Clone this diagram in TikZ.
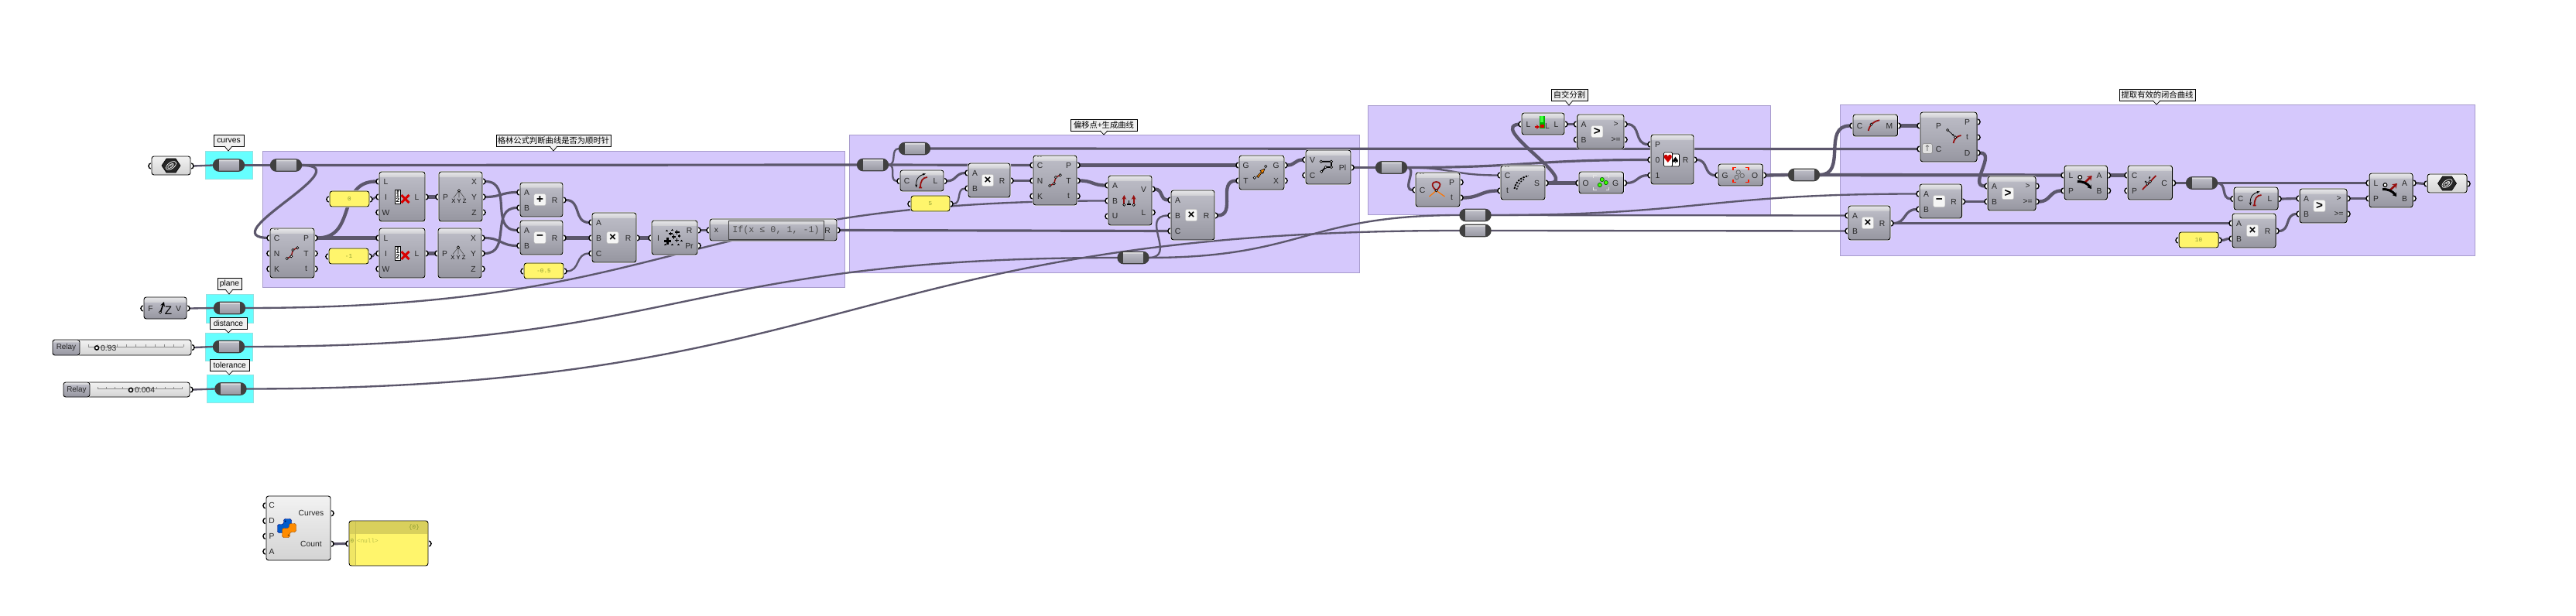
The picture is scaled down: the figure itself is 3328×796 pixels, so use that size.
\documentclass[tikz,border=0pt]{standalone}
\usepackage{fontspec}
\setmainfont{Liberation Sans}
\newfontfamily\cjkfont{Noto Sans CJK SC}
\newfontfamily\panelfont{Liberation Mono}
\newfontfamily\symfont{DejaVu Sans}
\usetikzlibrary{arrows.meta}
\pgfdeclarelayer{groups}
\pgfdeclarelayer{wires}
\pgfsetlayers{groups,wires,main}
\definecolor{gpurple}{RGB}{213, 200, 252}
\definecolor{gpedge}{RGB}{168, 156, 205}
\definecolor{gcyan}{RGB}{102, 255, 255}
\definecolor{gcedge}{RGB}{150, 225, 225}
\definecolor{wirec}{RGB}{92, 87, 108}
\definecolor{pyellow}{RGB}{255, 245, 108}
\definecolor{ptext}{RGB}{140, 155, 50}
\definecolor{darkred}{RGB}{150, 15, 15}
\definecolor{ghlo}{RGB}{150, 150, 160}
\definecolor{ghmi}{RGB}{172, 172, 182}
\definecolor{ghhi}{RGB}{186, 186, 196}
\definecolor{ghst}{RGB}{208, 208, 212}
\definecolor{ghto}{RGB}{232, 232, 234}
\pgfdeclareverticalshading{gha}{100bp}{color(0bp)=(ghlo); color(25bp)=(ghlo); color(50bp)=(ghmi); color(69.5bp)=(ghhi); color(70bp)=(ghst); color(75bp)=(ghto); color(100bp)=(ghto)}
\pgfdeclareverticalshading{ghb}{100bp}{color(0bp)=(ghlo); color(25bp)=(ghlo); color(50bp)=(ghmi); color(67.5bp)=(ghhi); color(68bp)=(ghst); color(75bp)=(ghto); color(100bp)=(ghto)}
\pgfdeclareverticalshading{ghc}{100bp}{color(0bp)=(ghlo); color(25bp)=(ghlo); color(50bp)=(ghmi); color(63.5bp)=(ghhi); color(64bp)=(ghst); color(75bp)=(ghto); color(100bp)=(ghto)}
\pgfdeclareverticalshading{ghl}{100bp}{color(0bp)=(black!17); color(25bp)=(black!17); color(75bp)=(black!5); color(100bp)=(black!5)}
\tikzset{
  ghbox/.style={draw=black, line width=0.8pt, rounded corners=2.5pt, inner sep=0pt, outer sep=0pt,
                preaction={draw=white, line width=1.8pt}},
  ghmetal/.style={shade, shading=\ghsh},
  ghlight/.style={shade, shading=ghl},
  panelbox/.style={fill=pyellow},
  ghport/.style={circle, draw=black, fill=white, line width=1.2pt, minimum size=7.2*0.8535pt, inner sep=0pt, outer sep=0pt},
  ghpin/.style={font=\fontsize{8.8}{10}\selectfont, text=black!85, inner sep=0pt},
  paneltext/.style={font=\panelfont\fontsize{6.5}{7}\selectfont, text=ptext, inner sep=0pt},
  btn/.style={draw=black!25, fill=black!4, rounded corners=2pt, minimum size=13pt, inner sep=0pt,
              font=\fontsize{13}{13}\selectfont\bfseries},
  relaybox/.style={draw=black!75, line width=1.1pt, rounded corners=6.5pt, minimum width=40*0.8535pt,
                   minimum height=15.5*0.8535pt, inner sep=0pt, outer sep=0pt, shade, shading=ghb,
                   path picture={\fill[black!75, sharp corners] (path picture bounding box.north west) rectangle ++(7,15.5);
                                 \fill[black!75, sharp corners] (path picture bounding box.north east) rectangle ++(-7,15.5);}},
  tipbox/.style={draw=black, fill=black!6, line width=0.8pt, inner sep=0pt, font=\fontsize{8.8}{10}\selectfont},
  grp/.style={fill=gpurple, draw=gpedge, line width=0.8pt},
  cyn/.style={fill=gcyan, draw=gcedge, line width=0.8pt},
  wire/.style={draw=wirec, line width=2pt, out=0, in=180, looseness=1.25},
  wirem/.style={wire, line width=2.7pt},
  wirek/.style={wire, line width=3.7pt}
}
\newcommand*{\inlab}{8.5}
\newcommand*{\outlab}{10.5}
\newcommand{\ghcomp}[8][ghmetal]{%
  \pgfmathtruncatemacro{\ghh}{#6-#4}%
  \ifnum\ghh<34 \def\ghsh{ghc}\else\ifnum\ghh<50 \def\ghsh{ghb}\else\def\ghsh{gha}\fi\fi
  \foreach \ghlab [count=\ghi] in {#7} {\xdef\ghn{\ghi}}%
  \foreach \ghlab [count=\ghi] in {#7} {
    \pgfmathsetmacro{\ghy}{#4+2.5+(#6-#4-4)*(\ghi-0.5)/\ghn}
    \node[ghport] (#2-i\ghi) at (#3-0.5,\ghy) {};
  }
  \foreach \ghlab [count=\ghi] in {#8} {\xdef\ghn{\ghi}}%
  \foreach \ghlab [count=\ghi] in {#8} {
    \pgfmathsetmacro{\ghy}{#4+2.5+(#6-#4-4)*(\ghi-0.5)/\ghn}
    \node[ghport] (#2-o\ghi) at (#5+0.5,\ghy) {};
  }
  \node[ghbox, #1, minimum width={(#5-#3)*0.03cm}, minimum height={(#6-#4)*0.03cm}] (#2) at ({(#3+#5)/2},{(#4+#6)/2}) {};
  \foreach \ghlab [count=\ghi] in {#7} {\xdef\ghn{\ghi}}%
  \foreach \ghlab [count=\ghi] in {#7} {
    \pgfmathsetmacro{\ghy}{#4+2.5+(#6-#4-4)*(\ghi-0.5)/\ghn}
    \node[ghpin] (#2-il\ghi) at (#3+\inlab,\ghy) {\ghlab};
  }
  \foreach \ghlab [count=\ghi] in {#8} {\xdef\ghn{\ghi}}%
  \foreach \ghlab [count=\ghi] in {#8} {
    \pgfmathsetmacro{\ghy}{#4+2.5+(#6-#4-4)*(\ghi-0.5)/\ghn}
    \node[ghpin] (#2-ol\ghi) at (#5-\outlab,\ghy) {\ghlab};
  }
}
\newcommand{\ghrelay}[3]{\node[relaybox] (#1) at (#2,#3) {};}
\newcommand{\ghtip}[8]{% name x1 y1 x2 y2 cx ytip text
  \fill[black!6] (#6-5,#5-0.5) -- (#6,#7) -- (#6+5,#5-0.5) -- cycle;
  \node[tipbox, minimum width={(#4-#2)*0.03cm}, minimum height={(#5-#3)*0.03cm}] (#1) at ({(#2+#4)/2},{(#3+#5)/2}) {#8};
  \fill[black!6] (#6-4.4,#5-0.4) -- (#6,#7) -- (#6+4.4,#5-0.4) -- cycle;
  \draw[line width=0.6pt] (#6-5,#5) -- (#6,#7) -- (#6+5,#5);
}
\newcommand{\ghslider}[9]{% name x1 y1 x2 y2 xmid rail knob value
  \node[ghport] (#1-o1) at (#4+0.5,{(#3+#5)/2}) {};
  \node[ghbox, ghlight, minimum width={(#4-#2)*0.03cm}, minimum height={(#5-#3)*0.03cm}] (#1) at ({(#2+#4)/2},{(#3+#5)/2}) {};
  \draw[ghbox, shade, shading=ghb] (#2,#3) rectangle (#6,#5);
  \node[ghpin, font=\fontsize{8.5}{10}\selectfont] (#1-t) at ({(#2+#6)/2},{(#3+#5)/2}) {Relay};
  \draw[black!45, line width=0.4pt] (#7,{(#3+#5)/2-1}) -- (#4-10,{(#3+#5)/2-1});
  \foreach \k in {0,...,10} {\draw[black!45, line width=0.4pt] ({#7+(#4-10-#7)*\k/10},{(#3+#5)/2-1}) -- ++(0,-3);}
  \draw[fill=white, line width=1.3pt] (#8,{(#3+#5)/2+0.5}) circle (2.6);
  \node[ghpin, anchor=west, font=\fontsize{8.8}{10}\selectfont] (#1-v) at (#8+5,{(#3+#5)/2+0.8}) {#9};
}
\newcommand{\ghbtn}[3]{\node[btn] (#1-btn) at ([xshift=#2*0.03cm]#1.center) {#3};}
\newcommand{\ghflag}[1]{\begin{scope}[shift={(#1.north west)}]
  \fill[black!45] (5,0.4) rectangle ++(2.2,1.4) (8.5,0.4) rectangle ++(2.2,1.4);\end{scope}}
\newcommand{\wdot}[2]{\draw[fill=white, line width=0.6pt] (#1,#2) circle (1.6);}
\newcommand{\icondiv}[1]{\begin{scope}[shift={(#1.center)}]
  \draw[darkred, line width=1.2pt] (-6.7,7) -- (-1.3,4.3) -- (1,-4) -- (6.7,-6.7);
  \wdot{-6.7}{7}\wdot{-1.3}{4.3}\wdot{1}{-4}\wdot{6.7}{-6.7}\end{scope}}
\newcommand{\iconlist}[1]{\begin{scope}[shift={(#1.center)}]
  \draw[fill=white, line width=0.7pt] (-9,-9) rectangle (-2,9);
  \node[font=\bfseries\fontsize{7}{7}\selectfont, inner sep=0pt] (#1-k1) at (-5.5,-2) {1};
  \node[font=\bfseries\fontsize{7}{7}\selectfont, inner sep=0pt] (#1-k2) at (-5.5,4.5) {2};
  \draw[line width=0.5pt] (-5.5,-7) circle (1.2);
  \draw[red!85!black, line width=2.5pt] (-1,-2) -- (9,8) (-1,8) -- (9,-2);\end{scope}}
\newcommand{\iconxyz}[1]{\begin{scope}[shift={(#1.center)}]
  \draw[black!70, line width=0.5pt] (-9,1.5) -- (-2,-7.5) -- (-2,1.5) (-2,-7.5) -- (5,1.5);
  \wdot{-2}{-7.5}
  \node[font=\fontsize{6.5}{7}\selectfont, inner sep=0pt] (#1-xyz) at (-2,6) {X Y Z};\end{scope}}
\newcommand{\iconmass}[1]{\begin{scope}[shift={(#1.center)}]
  \foreach \a/\b/\s/\w in {-9/4.5/4.2/2.4, 3/-7/3/1.6, 3/3.5/2.8/1.5, -5/-5/2.4/1.2, -1/-1/2.6/1.4, 6/-2/1.8/.9, -10/-9/1.3/.6, -3/-10/1.4/.6, 9/4/1.3/.6, -12/9/1.2/.5, -3/9/1.4/.6, 5/9/1.4/.7}
    {\draw[line width=\w pt] (\a-\s,\b) -- (\a+\s,\b) (\a,\b-\s) -- (\a,\b+\s);}\end{scope}}
\newcommand{\iconlen}[1]{\begin{scope}[shift={(#1.center)}]
  \draw[line width=0.7pt, {Stealth[length=3.5pt]}-{Stealth[length=3.5pt]}] (-7,9) .. controls (-8,-3) and (-3,-7) .. (5,-9);
  \draw[darkred, line width=1.5pt] (-4,9) -- (0,9) (-2,9) .. controls (-2,0) and (1,-4) .. (7,-4.5);\end{scope}}
\newcommand{\iconperp}[1]{\begin{scope}[shift={(#1.center)}]
  \foreach \a in {-7.7,4.7} {\draw[darkred, line width=1.5pt, -{Stealth[length=5pt,width=5pt]}] (\a,5.7) -- (\a,-7);\wdot{\a}{5.7}}
  \draw[line width=1.2pt] (-1.3,0) -- (-1.3,4.8) (-4,5.2) -- (1.4,5.2);\end{scope}}
\newcommand{\iconmove}[1]{\begin{scope}[shift={(#1.center)}]
  \draw[draw=black, line width=0.5pt, fill=orange!90!yellow] (-6.5,5) -- (-0.5,-1) -- (-2,-2.5) -- (4,-5) -- (1.7,1.2) -- (0.5,-0.2) -- (-4.5,6.5) -- cycle;
  \wdot{-9.3}{6.7}\wdot{5.3}{-8}\end{scope}}
\newcommand{\iconpoly}[1]{\begin{scope}[shift={(#1.center)}]
  \draw[line width=1.4pt] (-9.3,-7.3) -- (4,-7.3) -- (4,0) -- (-3.3,0) -- (-8.7,5.7);
  \wdot{-9.3}{-7.3}\wdot{4}{-7.3}\wdot{4}{0}\wdot{-3.3}{0}\wdot{-8.7}{5.7}\end{scope}}
\newcommand{\iconselfx}[1]{\begin{scope}[shift={(#1.center)}]
  \draw[orange!90!red, line width=1pt] (-11,9) -- (-2,1.3) -- (9,9);
  \draw[darkred, line width=1.5pt] (-2,1.3) .. controls (-10,-6) and (-7,-10) .. (-2,-10) .. controls (3,-10) and (6,-6) .. (-2,1.3);
  \wdot{-2}{1.3}\end{scope}}
\newcommand{\iconshatter}[1]{\begin{scope}[shift={(#1.center)}]
  \draw[line width=1.6pt, dash pattern=on 2pt off 1.2pt] (-11,8) .. controls (-9,-2) and (-3,-6) .. (7,-9);
  \draw[line width=1.1pt, dash pattern=on 1.6pt off 1.6pt] (-8,9) .. controls (-6,1) and (-2,-3) .. (3,-5);\end{scope}}
\newcommand{\iconlistlen}[1]{\begin{scope}[shift={(#1.center)}]
  \fill[green!70!black] (-4.6,-10) rectangle (2,6);
  \fill[green!75!white] (-3.4,-10) rectangle (0.8,-2);
  \fill[red!85!black] (-3.4,1.5) rectangle (1,5.5);
  \draw[red!80!black, line width=1.6pt, -{Stealth[length=3.5pt,width=5pt]}] (-11,4) -- (-4.5,4);
  \node[ghpin] (#1-ic) at (5.5,3) {L};\end{scope}}
\newcommand{\iconjoin}[1]{\begin{scope}[shift={(#1.center)}]
  \draw[black!10, line width=1.2pt] (-10,-6) |- (-6,-9.5) (6,-9.5) -| (10,-6) (10,6) |- (6,9.5) (-6,9.5) -| (-10,6);
  \foreach \a/\b in {1/-4,6/0,-2/3} {\draw[black!60!green, fill=green!75!yellow, line width=0.6pt] (\a,\b) circle (2.6);}\end{scope}}
\newcommand{\iconfit}[1]{\begin{scope}[shift={(#1.center)}]
  \draw[red!80!orange, line width=1.5pt] (-10,-6) |- (-6,-9.5) (6,-9.5) -| (10,-6) (10,6) |- (6,9.5) (-6,9.5) -| (-10,6);
  \foreach \a/\b in {-3/-3.5,2/1,-5/3} {\draw[black!60, line width=0.7pt] (\a,\b) circle (2.7);}\end{scope}}
\newcommand{\iconcards}[1]{\begin{scope}[shift={(#1.center)}]
  \draw[fill=white, line width=0.5pt, rounded corners=1pt] (-1,-7) rectangle (9,9);
  \node[font=\symfont\fontsize{10}{10}\selectfont, inner sep=0pt] (#1-sp) at (4,1) {♠};
  \draw[fill=white, line width=0.5pt, rounded corners=1pt] (-11,-9) rectangle (0,9);
  \node[font=\symfont\fontsize{12}{12}\selectfont, text=red!80!black, inner sep=0pt] (#1-he) at (-5.5,-1) {♥};\end{scope}}
\newcommand{\iconmid}[1]{\begin{scope}[shift={(#1.center)}]
  \draw[darkred, line width=1.5pt] (-9,7) .. controls (-7,-1) and (-3,-5) .. (5.5,-6.7);
  \wdot{-5.2}{-1.3}\end{scope}}
\newcommand{\iconclosest}[1]{\begin{scope}[shift={(#1.center)}]
  \draw[darkred, line width=1.5pt] (6,8) .. controls (7,3) and (10,-1) .. (16,-2);
  \draw[line width=0.6pt, -{Stealth[length=3pt]}] (-1.4,-9) -- (7.5,-1);
  \wdot{-1.4}{-9}\wdot{8.6}{0.3}\end{scope}}
\newcommand{\icondisp}[1]{\begin{scope}[shift={(#1.center)}]
  \draw[darkred, line width=2.2pt, -{Stealth[length=5pt,width=6.5pt]}] (-1,-0.5) -- (8,-9);
  \draw[line width=2.6pt, -{Stealth[length=4pt,width=5.5pt]}] (-11,-1.5) .. controls (-3,-1.5) and (2,1) .. (7,8);
  \draw[fill=white, line width=1pt] (-7.6,-7) circle (2.4);\end{scope}}
\newcommand{\iconclose}[1]{\begin{scope}[shift={(#1.center)}]
  \draw[darkred, line width=1.5pt] (-10,9) -- (7.6,-9);
  \draw[line width=0.5pt, -{Stealth[length=2.5pt]}] (-7,-2) -- (-4,0);
  \draw[line width=0.5pt, -{Stealth[length=2.5pt]}] (0,-8) -- (-1.5,-4.5);
  \wdot{0}{-1.3}\wdot{-3.4}{1.7}\end{scope}}
\newcommand{\iconhex}[1]{\begin{scope}[shift={(#1.center)}]
  \draw[fill=black!85, draw=black, line width=0.5pt] (-12,0) -- (-6,-9) -- (6,-9) -- (12,0) -- (6,9) -- (-6,9) -- cycle;
  \draw[white, line width=0.6pt] (0,0) ellipse [x radius=7.5, y radius=4, rotate=35];
  \draw[white, line width=0.6pt] (-0.5,0.5) ellipse [x radius=4.5, y radius=2, rotate=35];
  \draw[black!25, line width=0.5pt] (0.5,-0.5) ellipse [x radius=2.2, y radius=1, rotate=35];\end{scope}}
\newcommand{\iconfz}[1]{\begin{scope}[shift={(#1.center)}]
  \draw[line width=1.5pt, -{Stealth[length=5pt,width=5pt]}] (-6,5) -- (-1.5,-8);
  \wdot{-6.5}{5.5}
  \node[font=\fontsize{13}{13}\selectfont, inner sep=0pt] (#1-z) at (4,3) {Z};\end{scope}}
\newcommand{\iconpy}[1]{\begin{scope}[shift={(#1.center)}, xshift=-15*0.03cm]
  \draw[fill=blue!55!cyan!80!black, draw=blue!50!black, line width=0.4pt, rounded corners=2pt] (-4,-12) -- (6,-12) -- (6,0) -- (-3,0) -- (-3,6) -- (-12,6) -- (-12,-5) -- (-4,-5) -- cycle;
  \draw[fill=orange!90!yellow, draw=orange!60!black, line width=0.4pt, rounded corners=2pt] (4,12) -- (-6,12) -- (-6,0) -- (3,0) -- (3,-6) -- (12,-6) -- (12,5) -- (4,5) -- cycle;
  \fill[blue!30!black] (-2,-9) circle (1);
  \fill[orange!40!black] (2,9) circle (1);\end{scope}}
\begin{document}
\begin{tikzpicture}[x=0.03cm, y=-0.03cm]
  \useasboundingbox (0,0) rectangle (3328,796);

  \begin{pgfonlayer}{groups}
    \fill[white] (0,0) rectangle (3328,796);
    \draw[cyn] (265,195) rectangle (326,231);
    \draw[cyn] (266,380) rectangle (327,417);
    \draw[cyn] (265,430) rectangle (326,466);
    \draw[cyn] (267,484) rectangle (327.5,520);
    \draw[grp] (339,195) rectangle (1091,371);
    \draw[grp] (1097,174) rectangle (1756,352);
    \draw[grp] (1767,136) rectangle (2287,277);
    \draw[grp] (2377,135) rectangle (3197,330);
  \end{pgfonlayer}

  \ghtip{tipcurves}{276}{174}{315}{189}{295}{195}{curves}
  \ghtip{tipplane}{281}{359}{312}{374}{296}{380}{plane}
  \ghtip{tipdist}{271}{410}{319}{425}{295}{430}{distance}
  \ghtip{tiptol}{271}{464}{322.5}{479}{296}{484}{tolerance}
  \ghtip{tipgreen}{641}{174}{789}{189}{715}{195}{\cjkfont 格林公式判断曲线是否为顺时针}
  \ghtip{tipoffset}{1383}{154}{1469}{169}{1426}{174}{\cjkfont 偏移点+生成曲线}
  \ghtip{tipself}{2004}{115}{2051}{130}{2027}{136}{\cjkfont 自交分割}
  \ghtip{tipclosed}{2738}{115}{2836}{130}{2786}{135}{\cjkfont 提取有效的闭合曲线}

  \ghcomp[ghlight]{hexin}{196}{202}{246}{226}{{}}{{}}
  \iconhex{hexin}
  \ghcomp{fz}{186}{384}{241}{412}{F}{V}
  \iconfz{fz}
  \ghslider{sldist}{68}{439}{247}{459}{103}{114}{125}{0.93}
  \ghslider{sltol}{82}{494}{245}{513}{116}{126}{169}{0.004}
  \ghrelay{rcurves}{295.5}{213.5}
  \ghrelay{rplane}{296.5}{398}
  \ghrelay{rdist}{295.5}{448}
  \ghrelay{rtol}{298}{502.5}

  \ghrelay{rgreen}{369.5}{213.5}
  \ghcomp{div}{349}{295}{406}{359}{C,N,K}{P,T,t}
  \icondiv{div}\ghflag{div}
  \ghcomp{lia}{490}{222}{549}{286}{L,I,W}{L}
  \iconlist{lia}
  \ghcomp{lib}{490}{295}{549}{359}{L,I,W}{L}
  \iconlist{lib}
  \ghcomp[panelbox]{pzero}{426}{247}{477}{267}{{}}{{}}
  \node[paneltext] (pzero-t) at (pzero) {0};
  \ghcomp[panelbox]{pone}{425}{321}{476}{341}{{}}{{}}
  \node[paneltext] (pone-t) at (pone) {-1};
  \ghcomp{dca}{567}{222}{623}{286}{P}{X,Y,Z}
  \iconxyz{dca}
  \ghcomp{dcb}{566}{295}{622}{359}{P}{X,Y,Z}
  \iconxyz{dcb}
  \ghcomp{add}{672}{236}{727}{280}{A,B}{R}
  \ghbtn{add}{-2}{+}
  \ghcomp{sub}{672}{285}{727}{329}{A,B}{R}
  \ghbtn{sub}{-2}{−}
  \ghcomp{mula}{765}{275}{822}{339}{A,B,C}{R}
  \ghbtn{mula}{-2}{×}
  \ghcomp[panelbox]{phalf}{677}{340}{728}{360}{{}}{{}}
  \node[paneltext] (phalf-t) at (phalf) {-0.5};
  \ghcomp{mass}{842}{285}{901}{329}{I}{R,Pr}
  \iconmass{mass}
  {\def\outlab{12}\ghcomp{expr}{917}{283}{1081}{311}{x}{R}}
  \node[draw=black!75, line width=0.7pt, minimum width={123*0.03cm}, minimum height={24*0.03cm}, inner sep=0pt,
        font=\panelfont\fontsize{10}{11}\selectfont, text=black!70] (exprtxt) at (1002.5,297) {If(x ≤ 0, 1, -1)};

  \ghrelay{roffa}{1127.5}{213}
  \ghrelay{roffb}{1181.5}{192}
  \ghcomp{lena}{1163}{220}{1219}{247}{C}{L}
  \iconlen{lena}
  \ghcomp[panelbox]{pfive}{1177}{253}{1227}{273}{{}}{{}}
  \node[paneltext] (pfive-t) at (pfive) {5};
  \ghcomp{mulb}{1251}{211}{1305}{255}{A,B}{R}
  \ghbtn{mulb}{-2}{×}
  \ghcomp{divb}{1335}{201}{1391}{265}{C,N,K}{P,T,t}
  \icondiv{divb}\ghflag{divb}
  \ghcomp{perp}{1432}{227}{1488}{291}{A,B,U}{V,L}
  \iconperp{perp}
  \ghcomp{mulc}{1513}{246}{1569}{310}{A,B,C}{R}
  \ghbtn{mulc}{-2}{×}
  \ghrelay{roffc}{1464}{333}
  \ghcomp{move}{1601}{201}{1659}{245}{G,T}{G,X}
  \iconmove{move}
  \ghcomp{poly}{1687}{194}{1745}{238}{V,C}{Pl}
  \iconpoly{poly}

  \ghrelay{rself}{1797.5}{216.5}
  \ghcomp{selfx}{1829}{223}{1886}{267}{C}{P,t}
  \iconselfx{selfx}\ghflag{selfx}
  \ghcomp{shat}{1939}{214}{1996}{258}{C,t}{S}
  \iconshatter{shat}\ghflag{shat}
  \ghcomp{lilen}{1966}{146}{2021}{174}{L}{L}
  \iconlistlen{lilen}
  \ghcomp{cmpa}{2037.5}{148}{2098}{192}{A,B}{>,>=}
  \ghbtn{cmpa}{-4.5}{>}
  \ghcomp{joina}{2040}{222}{2097.5}{250}{O}{G}
  \iconjoin{joina}
  \ghcomp{filt}{2133}{174}{2188}{238}{P,0,1}{R}
  \iconcards{filt}
  \ghcomp{fit}{2220}{212}{2277.5}{240}{G}{O}
  \iconfit{fit}
  \ghrelay{rdistb}{1906}{278}
  \ghrelay{rtolb}{1906}{298}
  \ghrelay{rcirc}{2330.5}{226}

  \ghcomp{mid}{2394}{148}{2451.5}{176}{C}{M}
  \iconmid{mid}
  {\def\inlab{23.5}\def\outlab{12.5}\ghcomp{cp}{2481}{145}{2554}{209}{P,C}{P,t,D}}
  \iconclosest{cp}
  \node[draw=black!50, fill=black!12, rounded corners=1.5pt, minimum size=11pt, inner sep=0pt,
        font=\symfont\fontsize{9}{9}\selectfont, text=black!60] (cp-btn) at (2490,192) {↑};
  \ghcomp{cmpb}{2568}{228}{2630}{272}{A,B}{>,>=}
  \ghbtn{cmpb}{-5}{>}
  \ghcomp{subb}{2480}{238}{2534.5}{282}{A,B}{R}
  \ghbtn{subb}{-2}{−}
  \ghcomp{muld}{2388}{266}{2442}{310}{A,B}{R}
  \ghbtn{muld}{-2}{×}
  \ghcomp{dispa}{2667}{214}{2722.5}{258}{L,P}{A,B}
  \icondisp{dispa}
  \ghcomp{closed}{2749}{214}{2806.5}{258}{C,P}{C}
  \iconclose{closed}
  \ghrelay{rend}{2844.5}{236.5}
  \ghcomp{lenb}{2886}{242}{2943}{271}{C}{L}
  \iconlen{lenb}
  \ghcomp{cmpc}{2971}{244}{3032}{288}{A,B}{>,>=}
  \ghbtn{cmpc}{-5}{>}
  \ghcomp{mule}{2884}{276}{2940}{320}{A,B}{R}
  \ghbtn{mule}{-2}{×}
  \ghcomp[panelbox]{pten}{2815}{300}{2866}{320}{{}}{{}}
  \node[paneltext] (pten-t) at (pten) {10};
  \ghcomp{dispb}{3061}{224}{3117}{268}{L,P}{A,B}
  \icondisp{dispb}
  \ghcomp[ghlight]{hexout}{3136}{225}{3187}{249}{{}}{{}}
  \iconhex{hexout}

  {\def\inlab{7}\def\outlab{25}\ghcomp[ghlight]{py}{344}{641}{427}{724}{C,D,P,A}{Curves,Count}}
  \iconpy{py}
  \ghcomp[panelbox]{pout}{451}{673}{553}{731}{{}}{{}}
  \fill[black!15!pyellow] (451.6,673.6) rectangle (552.4,690);
  \fill[black!6!pyellow] (451.6,690) rectangle (459,730.4);
  \draw[black!22!pyellow, line width=0.4pt] (459,673.6) -- (459,730.4);
  \node[paneltext] (pout-idx) at (455,698.5) {0};
  \node[paneltext, text=ptext!60!pyellow, anchor=west] (pout-null) at (461,698.5) {<null>};
  \node[paneltext] (pout-path) at (535,681.5) {\{0\}};

  \begin{pgfonlayer}{wires}
    \draw[wire] (hexin-o1) to (rcurves.west);
    \draw[wire] (rcurves.east) to (rgreen.west);
    \draw[wirem] (rgreen.east) -- (roffa.west);
    \draw[wirem] (rgreen.east) .. controls +(80,0) and +(-80,0) .. (div-i1.center);
    \draw[wirek] (div-o1) to (lia-i1);
    \draw[wirek] (div-o1) to (lib-i1);
    \draw[wire] (pzero-o1) to (lia-i2);
    \draw[wire] (pone-o1) to (lib-i2);
    \draw[wirek] (lia-o1) to (dca-i1);
    \draw[wirek] (lib-o1) to (dcb-i1);
    \draw[wirem] (dca-o1) to (sub-i1);
    \draw[wirem] (dca-o2) to (add-i1);
    \draw[wirem] (dcb-o1) to (sub-i2);
    \draw[wirem] (dcb-o2) to (add-i2);
    \draw[wirem] (add-o1) to (mula-i1);
    \draw[wirek] (sub-o1) to (mula-i2);
    \draw[wire] (phalf-o1) to (mula-i3);
    \draw[wirek] (mula-o1) to (mass-i1);
    \draw[wirem] (mass-o1) to (expr-i1);
    \draw[wire] (fz-o1) to (rplane.west);
    \draw[wire] (sldist-o1) to (rdist.west);
    \draw[wire] (sltol-o1) to (rtol.west);
    \draw[wire] (rplane.east) .. controls +(566,0) and +(-566,0) .. (perp-i2);
    \draw[wire] (rdist.east) .. controls +(570,0) and +(-570,0) .. (roffc.west);
    \draw[wire] (rtol.east) .. controls +(790,0) and +(-790,0) .. (rtolb.west);
    \draw[wirem] (expr-o1) -- (mulc-i3);
    \draw[wire] (roffa.east) to (roffb.west);
    \draw[wire] (roffa.east) to (lena-i1);
    \draw[wirem] (roffa.east) -- (divb-i1);
    \draw[wirem] (roffb.east) -- (cp-i2);
    \draw[wirem] (lena-o1) to (mulb-i1);
    \draw[wire] (pfive-o1) to (mulb-i2);
    \draw[wirem] (mulb-o1) to (divb-i2);
    \draw[wirek] (divb-o1) to (move-i1);
    \draw[wirek] (divb-o2) to (perp-i1);
    \draw[wirek] (perp-o1) to (mulc-i1);
    \draw[wire, looseness=1.6] (roffc.east) to (mulc-i2);
    \draw[wire] (roffc.east) .. controls +(200,0) and +(-200,0) .. (rdistb.west);
    \draw[wirek] (mulc-o1) to (move-i2);
    \draw[wirek] (move-o1) to (poly-i1);
    \draw[wirem] (poly-o1) to (rself.west);
    \draw[wirem] (rself.east) to (selfx-i1);
    \draw[wire] (rself.east) to (shat-i1);
    \draw[wirem] (rself.east) to (filt-i2);
    \draw[wirek] (selfx-o2) to (shat-i2);
    \draw[wirek] (shat-o1) .. controls +(50,0) and +(-50,0) .. (lilen-i1.center);
    \draw[wirek] (shat-o1) to (joina-i1);
    \draw[wirem] (lilen-o1) to (cmpa-i1);
    \draw[wirem] (cmpa-o1) to (filt-i1);
    \draw[wirem] (joina-o1) to (filt-i3);
    \draw[wirem] (filt-o1) to (fit-i1);
    \draw[wirek] (fit-o1) to (rcirc.west);
    \draw[wirek] (rcirc.east) to (mid-i1);
    \draw[wirek] (rcirc.east) -- (dispa-i1);
    \draw[wirek] (mid-o1) to (cp-i1);
    \draw[wirek] (cp-o3) to (cmpb-i1);
    \draw[wire] (rdistb.east) -- (muld-i1);
    \draw[wire] (rdistb.east) to (subb-i1);
    \draw[wire] (rtolb.east) -- (muld-i2);
    \draw[wirem] (muld-o1) to (subb-i2);
    \draw[wirem] (muld-o1) to (mule-i1);
    \draw[wirem] (subb-o1) to (cmpb-i2);
    \draw[wirek] (cmpb-o2) to (dispa-i2);
    \draw[wirek] (dispa-o1) to (closed-i1);
    \draw[wirem] (closed-o1) to (rend.west);
    \draw[wirem] (rend.east) to (dispb-i1);
    \draw[wirem] (rend.east) to (lenb-i1);
    \draw[wirem] (lenb-o1) to (cmpc-i1);
    \draw[wirem] (mule-o1) to (cmpc-i2);
    \draw[wirem] (pten-o1) to (mule-i2);
    \draw[wirem] (cmpc-o1) to (dispb-i2);
    \draw[wirem] (dispb-o1) to (hexout-i1);
    \draw[wirem] (py-o2) to (pout-i1);
  \end{pgfonlayer}
\end{tikzpicture}
\end{document}
